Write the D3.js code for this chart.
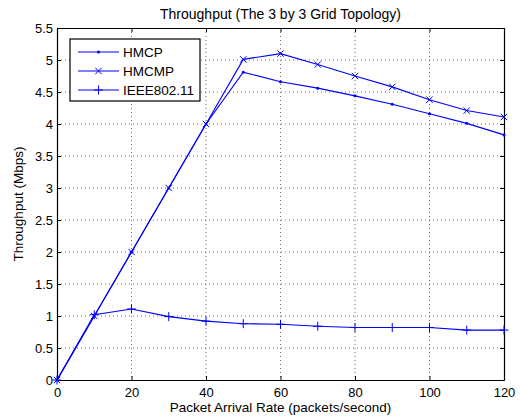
<!DOCTYPE html>
<html>
<head>
<meta charset="utf-8">
<script src="https://cdn.jsdelivr.net/npm/d3@7"></script>
<style>
  body { margin: 0; background: #fff; }
  text { font-family: "Liberation Sans", Arial, sans-serif; fill: #000; }
</style>
</head>
<body>
<div id="chart"></div>
<script>
// data
var rates = [0, 10, 20, 30, 40, 50, 60, 70, 80, 90, 100, 110, 120];
var hmcp = [0, 1.0, 2.0, 3.0, 4.0, 4.81, 4.66, 4.56, 4.44, 4.31, 4.16, 4.01, 3.83];
var hmcmp = [0, 1.0, 2.0, 3.0, 4.0, 5.01, 5.10, 4.93, 4.75, 4.58, 4.38, 4.21, 4.11];
var ieee = [0, 1.02, 1.11, 0.99, 0.92, 0.88, 0.87, 0.84, 0.82, 0.82, 0.82, 0.78, 0.78];
var xTicks = [0, 20, 40, 60, 80, 100, 120];
var yTicks = [0, 0.5, 1, 1.5, 2, 2.5, 3, 3.5, 4, 4.5, 5, 5.5];
var seriesNames = ["HMCP", "HMCMP", "IEEE802.11"];

var W = 521, H = 418;
var margin = {top: 28, right: 17, bottom: 38, left: 57},
    width = W - margin.left - margin.right,
    height = H - margin.top - margin.bottom;

var svg = d3.select("#chart")
  .append("svg")
    .attr("width", W)
    .attr("height", H);

var g = svg.append("g")
    .attr("transform", "translate(" + margin.left + "," + margin.top + ")");

var x = d3.scaleLinear().domain([0, 120]).range([0, width]);
var y = d3.scaleLinear().domain([0, 5.5]).range([height, 0]);

// dotted grid
g.append("g").selectAll("line")
  .data(xTicks.slice(1, -1))
  .enter().append("line")
    .attr("x1", function(d) { return x(d); })
    .attr("x2", function(d) { return x(d); })
    .attr("y1", 0).attr("y2", height)
    .attr("stroke", "#444").attr("stroke-width", 0.8)
    .attr("stroke-dasharray", "1,3");
g.append("g").selectAll("line")
  .data(yTicks.slice(1, -1))
  .enter().append("line")
    .attr("y1", function(d) { return y(d); })
    .attr("y2", function(d) { return y(d); })
    .attr("x1", 0).attr("x2", width)
    .attr("stroke", "#444").attr("stroke-width", 0.8)
    .attr("stroke-dasharray", "1,3");

// axes, ticks pointing inward, box on all sides
var fs = "13px";
g.append("g")
    .attr("transform", "translate(0," + height + ")")
    .call(d3.axisBottom(x).tickValues(xTicks).tickSizeInner(-4).tickSizeOuter(0).tickPadding(8));
g.append("g")
    .call(d3.axisLeft(y).tickValues(yTicks).tickFormat(d3.format("")).tickSizeInner(-4).tickSizeOuter(0).tickPadding(4));
g.append("g")
    .call(d3.axisTop(x).tickValues(xTicks).tickSizeInner(-4).tickSizeOuter(0).tickFormat(""));
g.append("g")
    .attr("transform", "translate(" + width + ",0)")
    .call(d3.axisRight(y).tickValues(yTicks).tickSizeInner(-4).tickSizeOuter(0).tickFormat(""));
g.selectAll(".domain").attr("stroke", "#000").attr("stroke-width", 1.2);
g.selectAll(".tick line").attr("stroke", "#000");
g.selectAll(".tick text").style("font-size", fs).style("font-family", "Liberation Sans, Arial, sans-serif");

// series
var line = d3.line()
  .x(function(d, i) { return x(rates[i]); })
  .y(function(d) { return y(d); });

var blue = "#0000ff";
function drawMarker(sel, type, cx, cy) {
  if (type === "dot") {
    sel.append("circle").attr("cx", cx).attr("cy", cy).attr("r", 1.5).attr("fill", blue);
  } else if (type === "x") {
    var s = 3.2;
    sel.append("path")
      .attr("d", "M" + (cx - s) + "," + (cy - s) + "L" + (cx + s) + "," + (cy + s) +
                 "M" + (cx - s) + "," + (cy + s) + "L" + (cx + s) + "," + (cy - s))
      .attr("stroke", blue).attr("stroke-width", 1).attr("fill", "none");
  } else {
    var p = 4.5;
    sel.append("path")
      .attr("d", "M" + (cx - p) + "," + cy + "L" + (cx + p) + "," + cy +
                 "M" + cx + "," + (cy - p) + "L" + cx + "," + (cy + p))
      .attr("stroke", blue).attr("stroke-width", 1).attr("fill", "none");
  }
}

var series = [
  {name: seriesNames[0], values: hmcp, marker: "dot"},
  {name: seriesNames[1], values: hmcmp, marker: "x"},
  {name: seriesNames[2], values: ieee, marker: "plus"}
];

series.forEach(function(s) {
  g.append("path")
    .datum(s.values)
    .attr("d", line)
    .attr("fill", "none")
    .attr("stroke", blue)
    .attr("stroke-width", 1.1);
  var mg = g.append("g");
  s.values.forEach(function(v, i) {
    drawMarker(mg, s.marker, x(rates[i]), y(v));
  });
});

// legend
var lg = g.append("g").attr("transform", "translate(13,11)");
lg.append("rect")
  .attr("width", 130).attr("height", 62)
  .attr("fill", "#fff").attr("stroke", "#000").attr("stroke-width", 1.2);
series.forEach(function(s, i) {
  var ly = 13 + i * 19;
  lg.append("line")
    .attr("x1", 8).attr("x2", 49).attr("y1", ly).attr("y2", ly)
    .attr("stroke", blue).attr("stroke-width", 1.1);
  drawMarker(lg, s.marker, 28.5, ly);
  lg.append("text")
    .attr("x", 53).attr("y", ly + 5)
    .style("font-size", "13.5px")
    .text(s.name);
});

// titles
svg.append("text")
  .attr("x", margin.left + width / 2).attr("y", 19)
  .attr("text-anchor", "middle")
  .style("font-size", "14px")
  .text("Throughput (The 3 by 3 Grid Topology)");
svg.append("text")
  .attr("x", margin.left + width / 2).attr("y", 412)
  .attr("text-anchor", "middle")
  .style("font-size", "13.5px")
  .text("Packet Arrival Rate (packets/second)");
svg.append("text")
  .attr("transform", "translate(23," + (margin.top + height / 2) + ")rotate(-90)")
  .attr("text-anchor", "middle")
  .style("font-size", "13.5px")
  .text("Throughput (Mbps)");
</script>
</body>
</html>
